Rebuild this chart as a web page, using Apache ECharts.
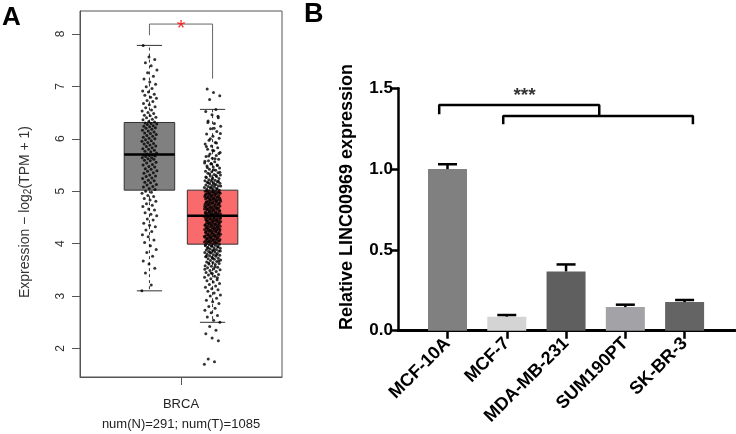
<!DOCTYPE html>
<html>
<head>
<meta charset="utf-8">
<script src="https://cdn.jsdelivr.net/npm/echarts@6/dist/echarts.min.js"></script>
<style>
html,body{margin:0;padding:0;background:#fff;}
#c{width:736px;height:434px;}
</style>
</head>
<body>
<div id="c"></div>
<script>
// ---------- Panel A data ----------
const groupA = ['BRCA'];
const countsA = ['num(N)=291', 'num(T)=1085'];
const yTicksA = [2, 3, 4, 5, 6, 7, 8];
// [min whisker, Q1, median, Q3, max whisker]
const boxNormal = [3.10, 5.02, 5.70, 6.31, 7.78];
const boxTumor = [2.50, 3.99, 4.53, 5.02, 6.56];
const pointsNormal = [
  3.10,3.21,3.44,3.53,3.61,3.67,3.76,3.83,3.89,3.96,4.02,4.07,4.13,4.17,4.23,4.26,4.32,4.35,4.39,4.45,4.47,4.53,4.56,4.59,4.64,4.66,4.71,4.73,4.76,4.81,4.83,4.86,4.90,4.92,4.96,4.98,5.00,
  5.03,5.05,5.08,5.09,5.12,5.13,5.16,5.17,5.20,5.21,5.24,5.25,5.28,5.29,5.31,5.34,5.35,5.38,5.39,5.42,5.43,5.46,5.47,5.50,5.51,5.54,5.55,5.58,5.59,5.61,5.62,5.64,5.64,5.66,5.67,5.68,5.69,5.69,
  5.71,5.73,5.75,5.76,5.78,5.80,5.81,5.83,5.85,5.86,5.88,5.90,5.91,5.93,5.95,5.96,5.98,6.00,6.01,6.03,6.05,6.06,6.08,6.10,6.11,6.13,6.15,6.16,6.18,6.20,6.21,6.23,6.24,6.25,6.27,6.28,6.29,6.30,
  6.32,6.33,6.36,6.37,6.40,6.41,6.44,6.45,6.48,6.50,6.53,6.55,6.59,6.61,6.65,6.67,6.71,6.73,6.77,6.79,6.83,6.85,6.89,6.91,6.96,6.99,7.04,7.08,7.14,7.19,7.26,7.31,7.39,7.45,7.51,7.56,7.78
];
const pointsTumor = [
  1.70,1.75,1.80,2.15,2.20,2.28,2.35,2.42,
  2.50,2.54,2.60,2.63,2.68,2.73,2.77,2.80,2.86,2.89,2.92,2.96,3.00,3.02,3.06,3.09,3.12,3.14,3.17,3.19,3.22,3.24,3.27,3.29,3.31,3.33,3.36,3.38,3.40,3.41,3.43,3.45,3.47,3.49,3.50,3.52,3.54,3.55,3.57,3.58,3.60,3.61,3.62,3.64,3.65,3.66,3.68,3.69,3.70,3.71,3.72,3.74,3.75,3.76,3.77,3.78,3.79,3.80,3.81,3.82,3.83,3.84,3.85,3.86,3.87,3.88,3.89,3.90,3.91,3.92,3.93,3.94,3.95,3.96,3.97,3.98,3.99,
  4.00,4.01,4.01,4.02,4.03,4.03,4.04,4.05,4.06,4.06,4.07,4.08,4.08,4.09,4.10,4.11,4.11,4.12,4.13,4.13,4.14,4.15,4.16,4.16,4.17,4.18,4.18,4.19,4.20,4.21,4.21,4.22,4.23,4.23,4.24,4.25,4.26,4.26,4.27,4.28,4.28,4.29,4.30,4.31,4.31,4.32,4.33,4.33,4.34,4.35,4.36,4.36,4.37,4.38,4.38,4.39,4.40,4.41,4.41,4.42,4.43,4.43,4.44,4.45,4.46,4.46,4.47,4.48,4.48,4.49,4.50,4.51,4.51,4.52,4.52,4.53,
  4.54,4.55,4.55,4.56,4.57,4.57,4.58,4.59,4.60,4.60,4.61,4.62,4.62,4.63,4.64,4.65,4.65,4.66,4.67,4.67,4.68,4.69,4.70,4.70,4.71,4.72,4.72,4.73,4.74,4.75,4.75,4.76,4.77,4.77,4.78,4.79,4.80,4.80,4.81,4.82,4.82,4.83,4.84,4.85,4.85,4.86,4.87,4.87,4.88,4.89,4.90,4.90,4.91,4.92,4.92,4.93,4.94,4.95,4.95,4.96,4.97,4.97,4.98,4.99,5.00,5.00,5.01,5.02,
  5.03,5.04,5.05,5.06,5.07,5.08,5.09,5.10,5.11,5.12,5.13,5.14,5.15,5.16,5.17,5.18,5.19,5.20,5.21,5.22,5.24,5.25,5.26,5.28,5.29,5.31,5.32,5.34,5.35,5.37,5.38,5.40,5.42,5.44,5.46,5.48,5.50,5.52,5.54,5.56,5.58,5.61,5.63,5.66,5.68,5.71,5.74,5.77,5.80,5.83,5.86,5.90,5.93,5.97,6.01,6.05,6.09,6.14,6.19,6.24,6.29,6.34,6.40,6.46,6.52,6.56,6.75,6.82,6.88,6.95,
  3.35,3.44,3.51,3.56,3.63,3.67,3.72,3.76,3.79,3.83,3.86,3.88,3.91,3.94,3.96,3.98,
  4.02,4.04,4.05,4.07,4.09,4.10,4.12,4.14,4.15,4.17,4.19,4.20,4.22,4.24,4.25,4.27,4.29,4.30,4.32,4.34,4.35,4.37,4.39,4.40,4.42,4.44,4.45,4.47,4.49,4.50,4.52,
  4.54,4.56,4.58,4.59,4.61,4.63,4.64,4.66,4.68,4.69,4.71,4.73,4.74,4.76,4.78,4.79,4.81,4.83,4.84,4.86,4.88,4.89,4.91,4.93,4.94,4.96,4.98,4.99,5.01,
  5.04,5.07,5.10,5.13,5.16,5.19,5.23,5.27,5.30,5.33,5.36,5.41,5.45,5.49,5.53,5.57,5.62,5.67,5.72,5.78,5.85,5.92,6.00,6.10,6.20,6.31,6.43
];
// significance bracket in panel A: [left leg bottom, top, right leg bottom]
const bracketA = [7.974, 8.187, 7.146];

// ---------- Panel B data ----------
const cellLines = ['MCF-10A', 'MCF-7', 'MDA-MB-231', 'SUM190PT', 'SK-BR-3'];
const relExpr = [1.00, 0.087, 0.367, 0.146, 0.177];
const relErr = [0.030, 0.010, 0.043, 0.015, 0.013];
const yTicksB = [0.0, 0.5, 1.0, 1.5];
// brackets in panel B: [x, y] points (x in category-index units)
const bracketB1 = [[-0.14, 1.339], [-0.14, 1.397], [2.56, 1.397], [2.56, 1.329]];
const bracketB2 = [[0.94, 1.277], [0.94, 1.329], [4.14, 1.329], [4.14, 1.277]];
const starB = [1.3, 1.455];

// ---------- styles ----------
const barColors = ['#808080', '#d4d4d4', '#5f5f5f', '#a3a3a7', '#646464'];
const FONT = 'Liberation Sans, Arial, Helvetica, sans-serif';

const chart = echarts.init(document.getElementById('c'), null, {renderer: 'canvas'});

const xN = -0.5, xT = 0.5;
function jitter(vals, cx, half) {
  return vals.map((v, i) => [cx + (((i * 0.6180339887) % 1) - 0.5) * 2 * half, v]);
}

const option = {
  animation: false,
  backgroundColor: '#fff',
  textStyle: {fontFamily: FONT},
  grid: [
    {left: 80, top: 11, width: 202, height: 373, show: true, borderColor: '#555', borderWidth: 1, backgroundColor: 'transparent'},
    {left: 398, top: 88.3, width: 337, height: 242.4}
  ],
  xAxis: [
    {
      type: 'value', gridIndex: 0, min: -1.6, max: 1.6,
      axisLine: {show: true, onZero: false, lineStyle: {color: '#555', width: 1}},
      splitLine: {show: false},
      axisTick: {show: true, customValues: [0], length: 8, lineStyle: {color: '#555'}},
      axisLabel: {
        customValues: [0], margin: 17, color: '#222', fontSize: 13, lineHeight: 20, fontFamily: FONT,
        formatter: () => groupA[0] + '\n' + countsA.join('; ')
      }
    },
    {
      type: 'value', gridIndex: 1, min: -0.835, max: 4.85,
      axisLine: {show: true, onZero: false, lineStyle: {color: '#000', width: 3}},
      splitLine: {show: false},
      axisTick: {show: true, customValues: [0, 1, 2, 3, 4], length: 8, lineStyle: {color: '#000', width: 2.5}},
      axisLabel: {
        customValues: [0, 1, 2, 3, 4], rotate: 45, margin: 10, color: '#000',
        fontSize: 18, fontWeight: 'bold', fontFamily: FONT,
        formatter: v => cellLines[Math.round(v)]
      }
    }
  ],
  yAxis: [
    {
      type: 'value', gridIndex: 0, min: 1.457, max: 8.436,
      axisLine: {show: true, onZero: false, lineStyle: {color: '#555', width: 1}},
      splitLine: {show: false},
      axisTick: {show: true, customValues: yTicksA, length: 8, lineStyle: {color: '#555'}},
      axisLabel: {customValues: yTicksA, rotate: 90, margin: 13, color: '#333', fontSize: 12, fontFamily: FONT}
    },
    {
      type: 'value', gridIndex: 1, min: 0, max: 1.5, interval: 0.5,
      axisLine: {show: true, onZero: false, lineStyle: {color: '#000', width: 2.5}},
      splitLine: {show: false},
      axisTick: {show: true, length: 7, lineStyle: {color: '#000', width: 2.5}},
      axisLabel: {margin: 5, color: '#000', fontSize: 17, fontWeight: 'bold', fontFamily: FONT, formatter: v => v.toFixed(1)}
    }
  ],
  graphic: [
    {type: 'text', left: 2, top: 5, style: {text: 'A', font: 'bold 26px ' + FONT, fill: '#000'}},
    {type: 'text', left: 304, top: 1, style: {text: 'B', font: 'bold 27px ' + FONT, fill: '#000'}},
    {
      type: 'text', x: 25, y: 212, rotation: Math.PI / 2,
      style: {
        text: '{a|Expression − log}{s|2}{a|(TPM + 1)}',
        align: 'center', verticalAlign: 'middle',
        rich: {
          a: {fontSize: 14, fontFamily: FONT, fill: '#333', color: '#333'},
          s: {fontSize: 10, fontFamily: FONT, fill: '#333', color: '#333', padding: [6, 0, 0, 0]}
        }
      }
    },
    {
      type: 'text', x: 347, y: 197, rotation: Math.PI / 2,
      style: {text: 'Relative LINC00969 expression', align: 'center', verticalAlign: 'middle', font: 'bold 18px ' + FONT, fill: '#000'}
    }
  ],
  series: [
    {
      type: 'custom', xAxisIndex: 0, yAxisIndex: 0, z: 2,
      data: [[xN].concat(boxNormal), [xT].concat(boxTumor)],
      renderItem(params, api) {
        const x = api.value(0);
        const mn = api.value(1), q1 = api.value(2), md = api.value(3), q3 = api.value(4), mx = api.value(5);
        const bw = api.size([0.8, 0])[0];
        const cw = api.size([0.4, 0])[0];
        const c = api.coord([x, 0])[0];
        const y = v => api.coord([x, v])[1];
        const fill = params.dataIndex === 0 ? '#808080' : '#f86a6b';
        const stroke = {stroke: '#333', lineWidth: 1};
        return {
          type: 'group',
          children: [
            {type: 'line', shape: {x1: c, y1: y(q3), x2: c, y2: y(mx)}, style: {stroke: '#333', lineWidth: 1, lineDash: [3, 3]}},
            {type: 'line', shape: {x1: c, y1: y(q1), x2: c, y2: y(mn)}, style: {stroke: '#333', lineWidth: 1, lineDash: [3, 3]}},
            {type: 'line', shape: {x1: c - cw / 2, y1: y(mx), x2: c + cw / 2, y2: y(mx)}, style: stroke},
            {type: 'line', shape: {x1: c - cw / 2, y1: y(mn), x2: c + cw / 2, y2: y(mn)}, style: stroke},
            {type: 'rect', shape: {x: c - bw / 2, y: y(q3), width: bw, height: y(q1) - y(q3)}, style: {fill: fill, stroke: '#333', lineWidth: 1}},
            {type: 'line', shape: {x1: c - bw / 2, y1: y(md), x2: c + bw / 2, y2: y(md)}, style: {stroke: '#000', lineWidth: 2.5}}
          ]
        };
      }
    },
    {
      type: 'scatter', xAxisIndex: 0, yAxisIndex: 0, z: 3, symbolSize: 3,
      itemStyle: {color: '#000'}, data: jitter(pointsNormal, xN, 0.12)
    },
    {
      type: 'scatter', xAxisIndex: 0, yAxisIndex: 0, z: 3, symbolSize: 3,
      itemStyle: {color: '#000'}, data: jitter(pointsTumor, xT, 0.13)
    },
    {
      type: 'line', xAxisIndex: 0, yAxisIndex: 0, z: 3, symbol: 'none',
      lineStyle: {color: '#666', width: 1},
      data: [[xN, bracketA[0]], [xN, bracketA[1]], [xT, bracketA[1]], [xT, bracketA[2]]]
    },
    {
      type: 'scatter', xAxisIndex: 0, yAxisIndex: 0, z: 4, symbolSize: 0,
      data: [[0, bracketA[1]]],
      label: {show: true, position: 'inside', formatter: '*', color: '#ff0000', fontSize: 22, fontFamily: FONT,
        backgroundColor: '#fff', padding: [0, 3, 0, 3], lineHeight: 8, height: 4, offset: [0, 5]}
    },
    {
      type: 'bar', xAxisIndex: 1, yAxisIndex: 1, barWidth: 39,
      data: relExpr.map((v, i) => ({value: [i, v], itemStyle: {color: barColors[i]}}))
    },
    {
      type: 'custom', xAxisIndex: 1, yAxisIndex: 1, z: 3,
      data: relExpr.map((v, i) => [i, v, v + relErr[i]]),
      renderItem(params, api) {
        const p0 = api.coord([api.value(0), api.value(1)]);
        const p1 = api.coord([api.value(0), api.value(2)]);
        return {
          type: 'group',
          children: [
            {type: 'line', shape: {x1: p0[0], y1: p0[1], x2: p1[0], y2: p1[1]}, style: {stroke: '#000', lineWidth: 2.5}},
            {type: 'line', shape: {x1: p1[0] - 9.5, y1: p1[1], x2: p1[0] + 9.5, y2: p1[1]}, style: {stroke: '#000', lineWidth: 2.5}}
          ]
        };
      }
    },
    {
      type: 'line', xAxisIndex: 1, yAxisIndex: 1, symbol: 'none', z: 3,
      lineStyle: {color: '#000', width: 2.5}, data: bracketB1
    },
    {
      type: 'line', xAxisIndex: 1, yAxisIndex: 1, symbol: 'none', z: 3,
      lineStyle: {color: '#000', width: 2.5}, data: bracketB2
    },
    {
      type: 'scatter', xAxisIndex: 1, yAxisIndex: 1, symbolSize: 0, z: 4,
      data: [starB],
      label: {show: true, position: 'inside', formatter: '***', color: '#000', fontSize: 19, fontWeight: 'bold', fontFamily: FONT}
    }
  ]
};
chart.setOption(option);
</script>
</body>
</html>
